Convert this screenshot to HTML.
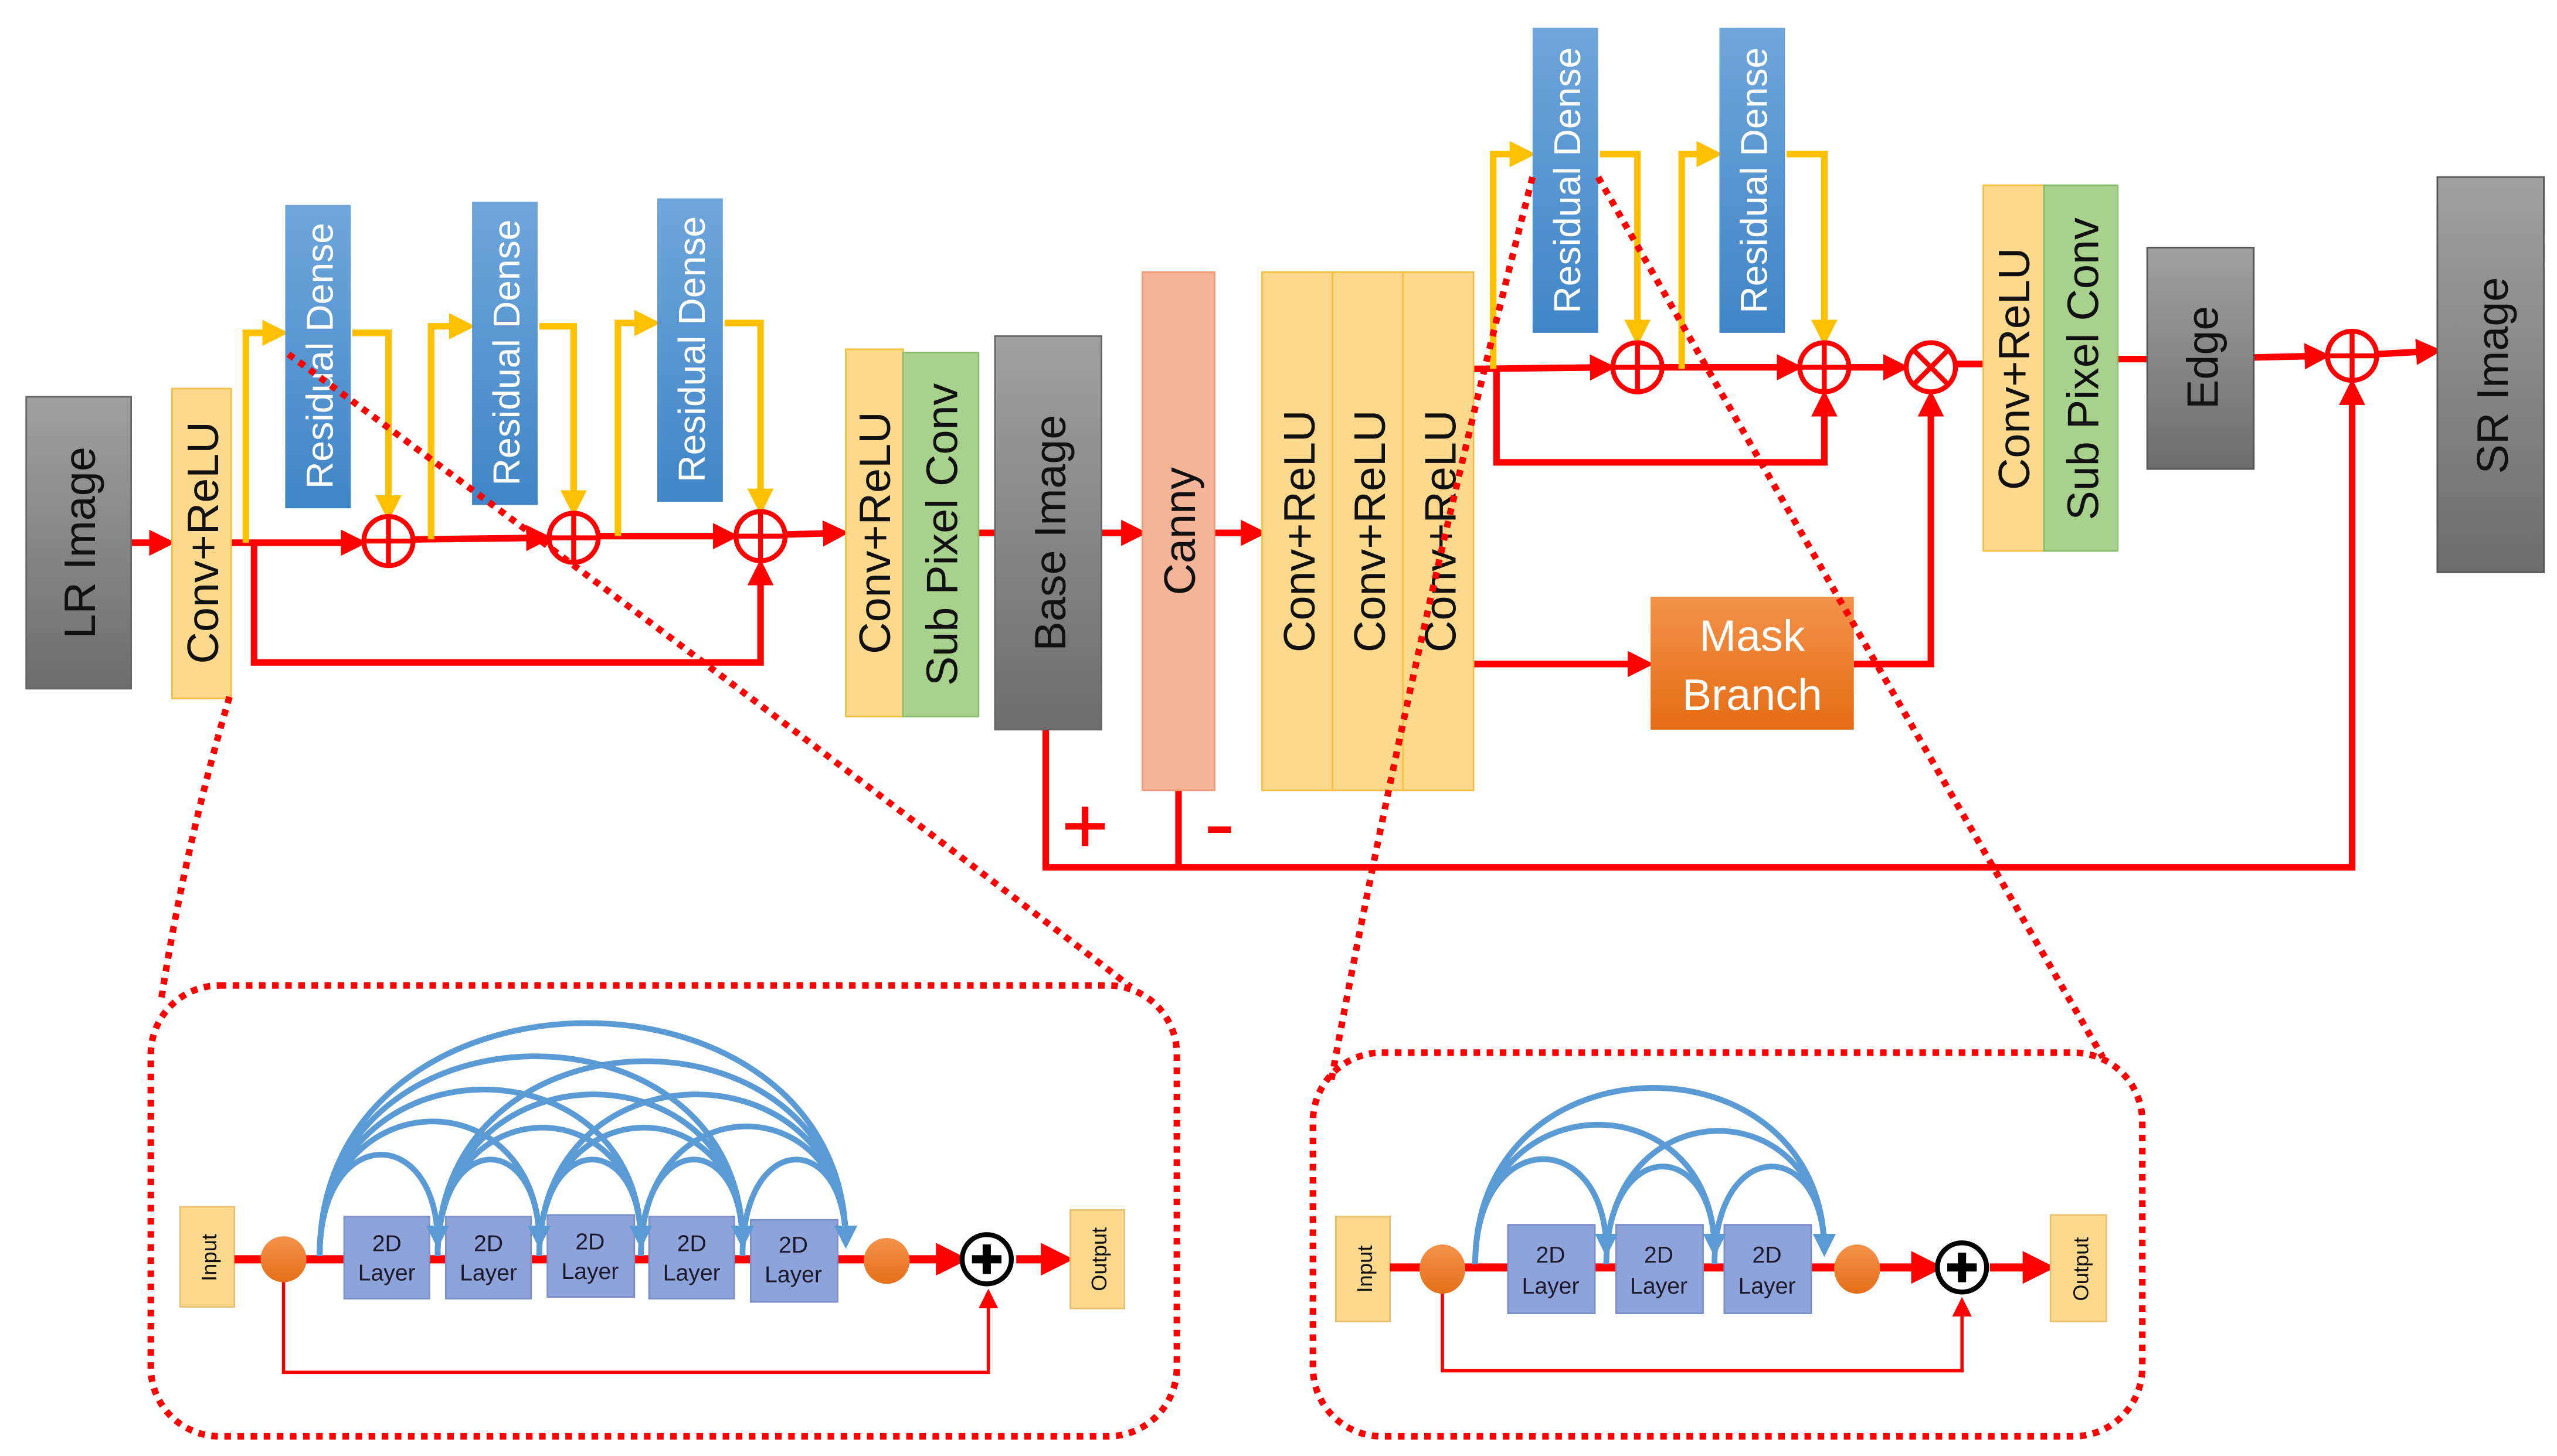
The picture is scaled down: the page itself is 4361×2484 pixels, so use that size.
<!DOCTYPE html>
<html><head><meta charset="utf-8"><style>
html,body{margin:0;padding:0;background:#fff;}
svg{display:block;}
text{font-family:"Liberation Sans","DejaVu Sans",sans-serif;}
</style></head><body>
<svg width="4361" height="2484" viewBox="0 0 1560 888" preserveAspectRatio="none" xmlns="http://www.w3.org/2000/svg">
<defs>
<marker id="ar" markerWidth="4" markerHeight="4" refX="3" refY="2" orient="auto" markerUnits="strokeWidth"><path d="M0,0 L4,2 L0,4 z" fill="#ff0000"/></marker>
<marker id="ay" markerWidth="4" markerHeight="4" refX="3" refY="2" orient="auto" markerUnits="strokeWidth"><path d="M0,0 L4,2 L0,4 z" fill="#ffc000"/></marker>
<marker id="ab" markerWidth="4" markerHeight="4" refX="3" refY="2" orient="auto" markerUnits="strokeWidth"><path d="M0,0 L4,2 L0,4 z" fill="#5b9bd5"/></marker>
<marker id="at" markerWidth="6" markerHeight="6" refX="5" refY="3" orient="auto" markerUnits="strokeWidth"><path d="M0,0 L6,3 L0,6 z" fill="#ff0000"/></marker>
<linearGradient id="gb" x1="0" y1="0" x2="0" y2="1"><stop offset="0" stop-color="#6fa6dc"/><stop offset="1" stop-color="#3f85c6"/></linearGradient>
<linearGradient id="gg" x1="0" y1="0" x2="0" y2="1"><stop offset="0" stop-color="#a0a0a0"/><stop offset="1" stop-color="#6d6d6d"/></linearGradient>
<linearGradient id="go" x1="0" y1="0" x2="0" y2="1"><stop offset="0" stop-color="#f4924a"/><stop offset="1" stop-color="#e46c14"/></linearGradient>
<linearGradient id="gc" x1="0" y1="0" x2="0" y2="1"><stop offset="0" stop-color="#f4924a"/><stop offset="1" stop-color="#e56f1a"/></linearGradient>
</defs>

<!-- main red lines -->
<g stroke="#ff0000" stroke-width="4" fill="none">
<line x1="80" y1="331" x2="103" y2="331" marker-end="url(#ar)"/>
<line x1="141" y1="331" x2="220" y2="331" marker-end="url(#ar)"/>
<line x1="252" y1="329" x2="333" y2="328" marker-end="url(#ar)"/>
<line x1="365" y1="327" x2="447" y2="327" marker-end="url(#ar)"/>
<line x1="479" y1="326" x2="514" y2="325" marker-end="url(#ar)"/>
<polyline points="155,331 155,404 464,404 464,345" marker-end="url(#ar)"/>
<line x1="597" y1="325" x2="607" y2="325"/>
<line x1="672" y1="325" x2="696" y2="325" marker-end="url(#ar)"/>
<line x1="741" y1="325" x2="769" y2="325" marker-end="url(#ar)"/>
<line x1="899" y1="225" x2="982" y2="224" marker-end="url(#ar)"/>
<line x1="1014" y1="224" x2="1096" y2="224" marker-end="url(#ar)"/>
<line x1="1128" y1="224" x2="1161" y2="224" marker-end="url(#ar)"/>
<line x1="1193" y1="222" x2="1210" y2="222"/>
<polyline points="913,225 913,282 1113,282 1113,242" marker-end="url(#ar)"/>
<line x1="899" y1="405" x2="1005" y2="405" marker-end="url(#ar)"/>
<polyline points="1131,405 1178,405 1178,242" marker-end="url(#ar)"/>
<line x1="1292" y1="219" x2="1310" y2="219"/>
<line x1="1375" y1="218" x2="1418" y2="217" marker-end="url(#ar)"/>
<line x1="1450" y1="216" x2="1486" y2="214" marker-end="url(#ar)"/>
<polyline points="638,445 638,529 1435,529 1435,235" marker-end="url(#ar)"/>
<line x1="719" y1="482" x2="719" y2="529"/>
<line x1="650" y1="504" x2="674" y2="504"/><line x1="662" y1="492" x2="662" y2="516"/>
<line x1="737" y1="506" x2="751" y2="506"/>
</g>

<!-- yellow loops -->
<g stroke="#ffc000" stroke-width="4" fill="none">
<polyline points="150,331 150,203 172,203" marker-end="url(#ay)"/>
<polyline points="215,203 237,203 237,314" marker-end="url(#ay)"/>
<polyline points="263,329 263,199 286,199" marker-end="url(#ay)"/>
<polyline points="329,199 350,199 350,311" marker-end="url(#ay)"/>
<polyline points="377,327 377,197 399,197" marker-end="url(#ay)"/>
<polyline points="442,197 464,197 464,310" marker-end="url(#ay)"/>
<polyline points="911,225 911,94 933,94" marker-end="url(#ay)"/>
<polyline points="976,94 999,94 999,207" marker-end="url(#ay)"/>
<polyline points="1026,225 1026,94 1047,94" marker-end="url(#ay)"/>
<polyline points="1090,94 1113,94 1113,207" marker-end="url(#ay)"/>
</g>

<!-- circles -->
<g stroke="#ff0000" stroke-width="3" fill="#fff">
<circle cx="237" cy="330" r="15"/><path d="M222,330H252M237,315V345"/>
<circle cx="350" cy="328" r="15"/><path d="M335,328H365M350,313V343"/>
<circle cx="464" cy="327" r="15"/><path d="M449,327H479M464,312V342"/>
<circle cx="999" cy="224" r="15"/><path d="M984,224H1014M999,209V239"/>
<circle cx="1113" cy="224" r="15"/><path d="M1098,224H1128M1113,209V239"/>
<circle cx="1178" cy="224" r="15"/><path d="M1167,213L1189,235M1189,213L1167,235"/>
<circle cx="1435" cy="217" r="15"/><path d="M1420,217H1450M1435,202V232"/>
</g>

<!-- boxes -->
<rect x="16" y="242" width="64" height="178" fill="url(#gg)" stroke="#666"/>
<text transform="translate(58,331) rotate(-90)" text-anchor="middle" font-size="27" fill="#111">LR Image</text>
<rect x="105" y="237" width="36" height="189" fill="#fdd98e" stroke="#f5c040"/>
<text transform="translate(133,331) rotate(-90)" text-anchor="middle" font-size="27" fill="#111">Conv+ReLU</text>

<g fill="url(#gb)">
<rect x="174" y="125" width="40" height="185"/>
<rect x="288" y="123" width="40" height="185"/>
<rect x="401" y="121" width="40" height="185"/>
<rect x="935" y="17" width="40" height="186"/>
<rect x="1049" y="17" width="40" height="186"/>
</g>
<g fill="#fff" font-size="23" text-anchor="middle">
<text transform="translate(203,217) rotate(-90)">Residual Dense</text>
<text transform="translate(317,215) rotate(-90)">Residual Dense</text>
<text transform="translate(430,213) rotate(-90)">Residual Dense</text>
<text transform="translate(964,110) rotate(-90)">Residual Dense</text>
<text transform="translate(1078,110) rotate(-90)">Residual Dense</text>
</g>

<rect x="516" y="213" width="35" height="224" fill="#fdd98e" stroke="#f5c040"/>
<text transform="translate(543,325) rotate(-90)" text-anchor="middle" font-size="27" fill="#111">Conv+ReLU</text>
<rect x="551" y="215" width="46" height="222" fill="#a9d18e" stroke="#8cbf6c"/>
<text transform="translate(584,326) rotate(-90)" text-anchor="middle" font-size="27" fill="#111">Sub Pixel Conv</text>
<rect x="607" y="205" width="65" height="240" fill="url(#gg)" stroke="#666"/>
<text transform="translate(650,325) rotate(-90)" text-anchor="middle" font-size="27" fill="#111">Base Image</text>
<rect x="697" y="166" width="44" height="316" fill="#f4b497" stroke="#f09a78"/>
<text transform="translate(729,324) rotate(-90)" text-anchor="middle" font-size="27" fill="#111">Canny</text>
<rect x="770" y="166" width="43" height="316" fill="#fdd98e" stroke="#f5c040"/>
<rect x="813" y="166" width="43" height="316" fill="#fdd98e" stroke="#f5c040"/>
<rect x="856" y="166" width="43" height="316" fill="#fdd98e" stroke="#f5c040"/>
<text transform="translate(802,324) rotate(-90)" text-anchor="middle" font-size="27" fill="#111">Conv+ReLU</text>
<text transform="translate(845,324) rotate(-90)" text-anchor="middle" font-size="27" fill="#111">Conv+ReLU</text>
<text transform="translate(888,324) rotate(-90)" text-anchor="middle" font-size="27" fill="#111">Conv+ReLU</text>

<rect x="1007" y="364" width="124" height="81" fill="url(#go)"/>
<text x="1069" y="397" text-anchor="middle" font-size="27" fill="#fff">Mask</text>
<text x="1069" y="433" text-anchor="middle" font-size="27" fill="#fff">Branch</text>

<rect x="1210" y="113" width="37" height="223" fill="#fdd98e" stroke="#f5c040"/>
<text transform="translate(1238,225) rotate(-90)" text-anchor="middle" font-size="27" fill="#111">Conv+ReLU</text>
<rect x="1247" y="113" width="45" height="223" fill="#a9d18e" stroke="#8cbf6c"/>
<text transform="translate(1280,225) rotate(-90)" text-anchor="middle" font-size="27" fill="#111">Sub Pixel Conv</text>
<rect x="1310" y="151" width="65" height="135" fill="url(#gg)" stroke="#555"/>
<text transform="translate(1353,218) rotate(-90)" text-anchor="middle" font-size="27" fill="#111">Edge</text>
<rect x="1487" y="108" width="65" height="241" fill="url(#gg)" stroke="#555"/>
<text transform="translate(1530,229) rotate(-90)" text-anchor="middle" font-size="27" fill="#111">SR Image</text>

<!-- dotted zoom lines -->
<g stroke="#ff0000" stroke-width="4" fill="none" stroke-dasharray="4,4">
<path d="M176,216 Q440,410 690,602"/>
<path d="M140,425 Q112,520 98,612"/>
<path d="M935,108 Q860,400 812,660"/>
<path d="M975,108 Q1130,380 1283,645"/>
<rect x="92" y="601" width="626" height="275" rx="42"/>
<rect x="801" y="642" width="506" height="234" rx="42"/>
</g>

<!-- panel 1 -->
<rect x="110" y="736" width="33" height="61" fill="#fdd98e" stroke="#e8c070"/>
<text transform="translate(132,767) rotate(-90)" text-anchor="middle" font-size="13" fill="#111">Input</text>
<line x1="143" y1="768" x2="586" y2="768" stroke="#ff0000" stroke-width="5" marker-end="url(#ar)"/>
<line x1="620" y1="768" x2="650" y2="768" stroke="#ff0000" stroke-width="5" marker-end="url(#ar)"/>
<polyline points="173,781 173,837 603,837 603,788" stroke="#ff0000" stroke-width="2" fill="none" marker-end="url(#at)"/>
<g fill="#8ea3da" stroke="#7d8fc8">
<rect x="210" y="742" width="52" height="50"/><rect x="272" y="742" width="52" height="50"/><rect x="334" y="741" width="53" height="50"/><rect x="396" y="742" width="52" height="50"/><rect x="458" y="744" width="53" height="50"/>
</g>
<g font-size="14" fill="#1a1a2a" text-anchor="middle">
<text x="236" y="763">2D</text><text x="236" y="781">Layer</text>
<text x="298" y="763">2D</text><text x="298" y="781">Layer</text>
<text x="360" y="762">2D</text><text x="360" y="780">Layer</text>
<text x="422" y="763">2D</text><text x="422" y="781">Layer</text>
<text x="484" y="764">2D</text><text x="484" y="782">Layer</text>
</g>
<g stroke="#5b9bd5" stroke-width="3.5" fill="none" marker-end="url(#ab)">
<path d="M195,766 C195,685 267,685 267,758"/>
<path d="M195,766 C195,658 329,658 329,758"/>
<path d="M195,766 C195,632 391,632 391,758"/>
<path d="M195,766 C195,605 453,605 453,758"/>
<path d="M195,766 C195,578 516,578 516,758"/>
<path d="M267,766 C267,689 329,689 329,758"/>
<path d="M267,766 C267,663 391,663 391,758"/>
<path d="M267,766 C267,636 453,636 453,758"/>
<path d="M267,766 C267,609 516,609 516,758"/>
<path d="M329,766 C329,689 391,689 391,758"/>
<path d="M329,766 C329,663 453,663 453,758"/>
<path d="M329,766 C329,636 516,636 516,758"/>
<path d="M391,766 C391,689 453,689 453,758"/>
<path d="M391,766 C391,662 516,662 516,758"/>
<path d="M453,766 C453,689 516,689 516,758"/>
</g>
<ellipse cx="173" cy="768" rx="14" ry="14" fill="url(#gc)"/>
<ellipse cx="541" cy="769" rx="14" ry="14" fill="url(#gc)"/>
<circle cx="602" cy="768" r="15" fill="#fff" stroke="#000" stroke-width="3"/>
<path d="M593,768H611M602,759V777" stroke="#000" stroke-width="5"/>
<rect x="653" y="738" width="33" height="60" fill="#fdd98e" stroke="#e8c070"/>
<text transform="translate(675,768) rotate(-90)" text-anchor="middle" font-size="13" fill="#111">Output</text>

<!-- panel 2 -->
<rect x="815" y="742" width="33" height="64" fill="#fdd98e" stroke="#e8c070"/>
<text transform="translate(837,774) rotate(-90)" text-anchor="middle" font-size="13" fill="#111">Input</text>
<line x1="848" y1="773" x2="1181" y2="773" stroke="#ff0000" stroke-width="5" marker-end="url(#ar)"/>
<line x1="1214" y1="773" x2="1249" y2="773" stroke="#ff0000" stroke-width="5" marker-end="url(#ar)"/>
<polyline points="880,786 880,836 1197,836 1197,793" stroke="#ff0000" stroke-width="2" fill="none" marker-end="url(#at)"/>
<g fill="#8ea3da" stroke="#7d8fc8">
<rect x="920" y="747" width="53" height="54"/><rect x="986" y="747" width="53" height="54"/><rect x="1052" y="747" width="53" height="54"/>
</g>
<g font-size="14" fill="#1a1a2a" text-anchor="middle">
<text x="946" y="770">2D</text><text x="946" y="789">Layer</text>
<text x="1012" y="770">2D</text><text x="1012" y="789">Layer</text>
<text x="1078" y="770">2D</text><text x="1078" y="789">Layer</text>
</g>
<g stroke="#5b9bd5" stroke-width="3.5" fill="none" marker-end="url(#ab)">
<path d="M900,771 C900,687 980,687 980,763"/>
<path d="M900,771 C900,659 1046,659 1046,763"/>
<path d="M900,771 C900,629 1113,629 1113,763"/>
<path d="M980,771 C980,693 1046,693 1046,763"/>
<path d="M980,771 C980,664 1113,664 1113,763"/>
<path d="M1046,771 C1046,693 1113,693 1113,763"/>
</g>
<ellipse cx="880" cy="774" rx="14" ry="15" fill="url(#gc)"/>
<ellipse cx="1133" cy="774" rx="14" ry="15" fill="url(#gc)"/>
<circle cx="1197" cy="773" r="15" fill="#fff" stroke="#000" stroke-width="3"/>
<path d="M1188,773H1206M1197,764V782" stroke="#000" stroke-width="5"/>
<rect x="1251" y="741" width="34" height="65" fill="#fdd98e" stroke="#e8c070"/>
<text transform="translate(1274,774) rotate(-90)" text-anchor="middle" font-size="13" fill="#111">Output</text>
</svg>
</body></html>
